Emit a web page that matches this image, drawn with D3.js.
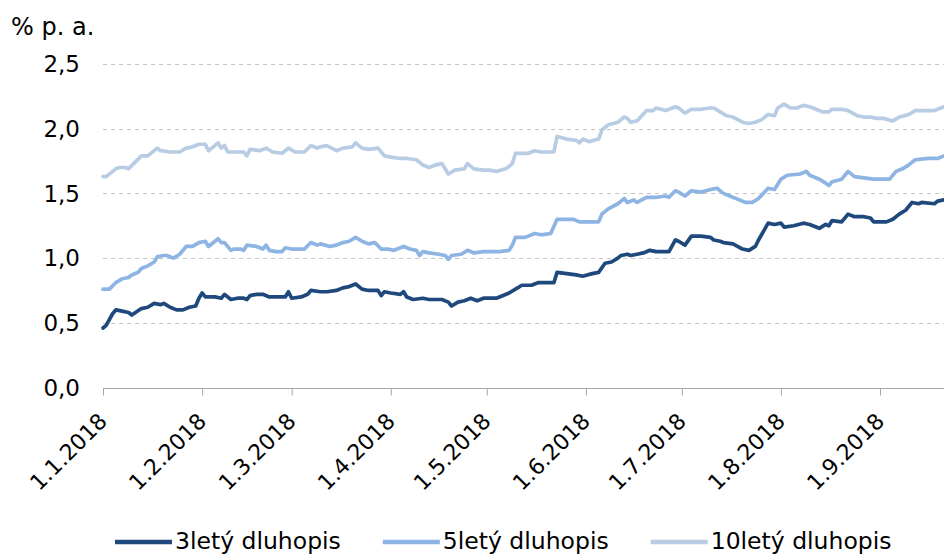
<!DOCTYPE html>
<html><head><meta charset="utf-8">
<script src="https://cdn.jsdelivr.net/npm/d3@7"></script>
<style>
body{margin:0;background:#fff}
svg{display:block;font-family:"DejaVu Sans",Verdana,sans-serif}
</style>
</head><body>
<svg id="chart" width="944" height="556"></svg>
<script>
// ---------- data ----------
const unitLabel = "% p. a.";
const yTickValues = [0, 0.5, 1.0, 1.5, 2.0, 2.5];
const xTickDates = ["2018-01-01","2018-02-01","2018-03-01","2018-04-01","2018-05-01","2018-06-01","2018-07-01","2018-08-01","2018-09-01"];
const xDomain = ["2018-01-01","2018-09-21"];
const seriesNames = ["3letý dluhopis","5letý dluhopis","10letý dluhopis"];

const dates3Y = ["2018-01-01","2018-01-02","2018-01-04","2018-01-05","2018-01-07","2018-01-09","2018-01-10","2018-01-13","2018-01-15","2018-01-17","2018-01-19","2018-01-20","2018-01-22","2018-01-24","2018-01-26","2018-01-28","2018-01-30","2018-01-31","2018-02-01","2018-02-02","2018-02-05","2018-02-07","2018-02-08","2018-02-10","2018-02-12","2018-02-14","2018-02-15","2018-02-16","2018-02-18","2018-02-20","2018-02-22","2018-02-24","2018-02-27","2018-02-28","2018-03-01","2018-03-04","2018-03-06","2018-03-07","2018-03-10","2018-03-12","2018-03-15","2018-03-17","2018-03-19","2018-03-21","2018-03-23","2018-03-25","2018-03-28","2018-03-29","2018-03-30","2018-04-01","2018-04-04","2018-04-05","2018-04-06","2018-04-08","2018-04-11","2018-04-13","2018-04-17","2018-04-19","2018-04-20","2018-04-22","2018-04-24","2018-04-26","2018-04-28","2018-04-30","2018-05-04","2018-05-05","2018-05-08","2018-05-10","2018-05-12","2018-05-15","2018-05-17","2018-05-19","2018-05-22","2018-05-23","2018-05-26","2018-05-29","2018-05-31","2018-06-03","2018-06-05","2018-06-07","2018-06-09","2018-06-11","2018-06-12","2018-06-14","2018-06-15","2018-06-17","2018-06-19","2018-06-21","2018-06-23","2018-06-27","2018-06-29","2018-06-30","2018-07-02","2018-07-04","2018-07-07","2018-07-10","2018-07-11","2018-07-13","2018-07-14","2018-07-17","2018-07-20","2018-07-22","2018-07-24","2018-07-25","2018-07-28","2018-07-30","2018-08-01","2018-08-02","2018-08-05","2018-08-08","2018-08-10","2018-08-13","2018-08-15","2018-08-16","2018-08-17","2018-08-20","2018-08-22","2018-08-24","2018-08-27","2018-08-29","2018-08-30","2018-09-03","2018-09-05","2018-09-07","2018-09-09","2018-09-11","2018-09-13","2018-09-14","2018-09-18","2018-09-19","2018-09-21"];
const values3Y = [0.46,0.48,0.57,0.60,0.59,0.58,0.56,0.61,0.62,0.65,0.64,0.65,0.62,0.60,0.60,0.62,0.63,0.69,0.73,0.70,0.70,0.69,0.72,0.68,0.69,0.69,0.68,0.71,0.72,0.72,0.70,0.70,0.70,0.74,0.69,0.70,0.72,0.75,0.74,0.74,0.75,0.77,0.78,0.80,0.76,0.75,0.75,0.71,0.74,0.73,0.72,0.74,0.70,0.68,0.69,0.68,0.68,0.66,0.63,0.66,0.67,0.69,0.67,0.69,0.69,0.70,0.73,0.76,0.79,0.79,0.81,0.81,0.81,0.89,0.88,0.87,0.86,0.88,0.89,0.96,0.97,1.00,1.02,1.03,1.02,1.03,1.04,1.06,1.05,1.05,1.14,1.13,1.10,1.17,1.17,1.16,1.14,1.13,1.12,1.11,1.07,1.06,1.09,1.14,1.27,1.26,1.27,1.24,1.25,1.27,1.26,1.23,1.26,1.25,1.29,1.28,1.34,1.32,1.32,1.31,1.28,1.28,1.30,1.34,1.37,1.43,1.42,1.43,1.42,1.44,1.45];

const dates5Y = ["2018-01-01","2018-01-03","2018-01-05","2018-01-07","2018-01-09","2018-01-10","2018-01-12","2018-01-13","2018-01-15","2018-01-17","2018-01-18","2018-01-20","2018-01-21","2018-01-23","2018-01-25","2018-01-27","2018-01-29","2018-01-31","2018-02-02","2018-02-03","2018-02-06","2018-02-07","2018-02-08","2018-02-10","2018-02-11","2018-02-13","2018-02-14","2018-02-15","2018-02-18","2018-02-20","2018-02-21","2018-02-22","2018-02-24","2018-02-26","2018-02-27","2018-03-01","2018-03-05","2018-03-07","2018-03-09","2018-03-10","2018-03-13","2018-03-15","2018-03-17","2018-03-19","2018-03-21","2018-03-23","2018-03-25","2018-03-27","2018-03-29","2018-03-31","2018-04-02","2018-04-05","2018-04-07","2018-04-09","2018-04-10","2018-04-11","2018-04-13","2018-04-16","2018-04-18","2018-04-19","2018-04-20","2018-04-23","2018-04-25","2018-04-27","2018-04-30","2018-05-03","2018-05-05","2018-05-08","2018-05-09","2018-05-10","2018-05-13","2018-05-16","2018-05-18","2018-05-21","2018-05-23","2018-05-28","2018-05-30","2018-06-01","2018-06-05","2018-06-06","2018-06-08","2018-06-11","2018-06-13","2018-06-14","2018-06-16","2018-06-17","2018-06-20","2018-06-23","2018-06-26","2018-06-27","2018-06-29","2018-06-30","2018-07-02","2018-07-04","2018-07-07","2018-07-10","2018-07-12","2018-07-14","2018-07-16","2018-07-19","2018-07-21","2018-07-23","2018-07-25","2018-07-28","2018-07-30","2018-08-01","2018-08-03","2018-08-07","2018-08-09","2018-08-10","2018-08-13","2018-08-15","2018-08-16","2018-08-17","2018-08-20","2018-08-22","2018-08-24","2018-08-27","2018-08-30","2018-09-02","2018-09-04","2018-09-06","2018-09-08","2018-09-10","2018-09-12","2018-09-16","2018-09-19","2018-09-21"];
const values5Y = [0.76,0.76,0.81,0.84,0.85,0.87,0.89,0.92,0.94,0.97,1.01,1.02,1.02,1.00,1.03,1.09,1.09,1.12,1.13,1.09,1.15,1.12,1.12,1.06,1.07,1.07,1.06,1.10,1.09,1.07,1.10,1.06,1.05,1.05,1.08,1.07,1.07,1.12,1.10,1.11,1.09,1.10,1.12,1.13,1.16,1.13,1.11,1.12,1.07,1.07,1.06,1.09,1.07,1.06,1.02,1.05,1.04,1.03,1.02,0.99,1.02,1.03,1.06,1.04,1.05,1.05,1.05,1.06,1.10,1.16,1.16,1.19,1.18,1.19,1.30,1.30,1.28,1.28,1.28,1.34,1.38,1.42,1.46,1.43,1.45,1.43,1.47,1.47,1.48,1.47,1.52,1.51,1.48,1.52,1.51,1.53,1.54,1.50,1.48,1.45,1.43,1.43,1.46,1.54,1.53,1.61,1.64,1.65,1.67,1.64,1.61,1.58,1.56,1.59,1.61,1.67,1.63,1.62,1.61,1.61,1.61,1.67,1.69,1.72,1.76,1.77,1.77,1.79];

const dates10Y = ["2018-01-01","2018-01-02","2018-01-05","2018-01-06","2018-01-08","2018-01-09","2018-01-11","2018-01-13","2018-01-15","2018-01-18","2018-01-19","2018-01-22","2018-01-25","2018-01-27","2018-01-29","2018-01-31","2018-02-02","2018-02-03","2018-02-06","2018-02-07","2018-02-08","2018-02-09","2018-02-14","2018-02-15","2018-02-16","2018-02-19","2018-02-21","2018-02-23","2018-02-26","2018-02-28","2018-03-02","2018-03-05","2018-03-07","2018-03-09","2018-03-10","2018-03-12","2018-03-15","2018-03-17","2018-03-20","2018-03-21","2018-03-23","2018-03-25","2018-03-28","2018-03-30","2018-04-01","2018-04-04","2018-04-06","2018-04-09","2018-04-11","2018-04-13","2018-04-15","2018-04-17","2018-04-18","2018-04-19","2018-04-21","2018-04-24","2018-04-25","2018-04-27","2018-04-30","2018-05-02","2018-05-04","2018-05-07","2018-05-09","2018-05-10","2018-05-14","2018-05-16","2018-05-18","2018-05-22","2018-05-23","2018-05-26","2018-05-29","2018-05-30","2018-05-31","2018-06-02","2018-06-05","2018-06-06","2018-06-08","2018-06-11","2018-06-13","2018-06-14","2018-06-15","2018-06-17","2018-06-20","2018-06-22","2018-06-23","2018-06-26","2018-06-29","2018-06-30","2018-07-02","2018-07-04","2018-07-07","2018-07-10","2018-07-11","2018-07-13","2018-07-15","2018-07-17","2018-07-20","2018-07-22","2018-07-24","2018-07-26","2018-07-28","2018-07-30","2018-07-31","2018-08-02","2018-08-04","2018-08-06","2018-08-08","2018-08-10","2018-08-12","2018-08-14","2018-08-16","2018-08-17","2018-08-20","2018-08-22","2018-08-25","2018-08-27","2018-08-29","2018-08-31","2018-09-02","2018-09-05","2018-09-07","2018-09-10","2018-09-12","2018-09-15","2018-09-18","2018-09-20","2018-09-21"];
const values10Y = [1.63,1.63,1.69,1.70,1.70,1.69,1.74,1.79,1.79,1.85,1.83,1.82,1.82,1.85,1.86,1.88,1.88,1.83,1.89,1.85,1.87,1.82,1.82,1.79,1.84,1.83,1.85,1.82,1.81,1.85,1.82,1.82,1.87,1.85,1.86,1.87,1.83,1.85,1.86,1.89,1.85,1.84,1.85,1.79,1.78,1.77,1.77,1.76,1.72,1.70,1.72,1.73,1.69,1.65,1.68,1.69,1.73,1.69,1.68,1.68,1.67,1.69,1.73,1.81,1.81,1.83,1.82,1.82,1.94,1.92,1.91,1.89,1.92,1.90,1.92,1.99,2.03,2.05,2.09,2.08,2.05,2.06,2.14,2.14,2.16,2.14,2.17,2.16,2.12,2.15,2.15,2.16,2.16,2.13,2.10,2.09,2.05,2.04,2.05,2.07,2.11,2.10,2.16,2.19,2.16,2.16,2.18,2.17,2.15,2.13,2.13,2.15,2.15,2.14,2.10,2.09,2.09,2.08,2.08,2.06,2.09,2.11,2.14,2.14,2.14,2.16,2.17];

// ---------- styles ----------
const colors = ["#1f497d", "#8db4e2", "#b8cce4"];
const W = 944, H = 556;
const plot = {left: 103, right: 944, top: 64, bottom: 387.5};

const parse = d3.timeParse("%Y-%m-%d");
const series = [
  {name: seriesNames[0], dates: dates3Y, values: values3Y, color: colors[0]},
  {name: seriesNames[1], dates: dates5Y, values: values5Y, color: colors[1]},
  {name: seriesNames[2], dates: dates10Y, values: values10Y, color: colors[2]}
].map(s => ({...s, points: s.dates.map((d, i) => ({date: parse(d), value: s.values[i]}))}));

const svg = d3.select("#chart");
const x = d3.scaleTime().domain(xDomain.map(parse)).range([plot.left, plot.right]);
const y = d3.scaleLinear().domain([0, 2.5]).range([plot.bottom, plot.top]);

// gridlines
svg.append("g").selectAll("line").data(yTickValues.filter(v => v > 0)).join("line")
  .attr("x1", plot.left).attr("x2", plot.right)
  .attr("y1", d => Math.round(y(d)) + 0.5).attr("y2", d => Math.round(y(d)) + 0.5)
  .attr("stroke", "#c4c4c4").attr("stroke-width", 1).attr("stroke-dasharray", "4,4");

// y labels
svg.append("g").selectAll("text").data(yTickValues).join("text")
  .attr("x", 80).attr("y", d => y(d)).attr("dy", "0.36em")
  .attr("text-anchor", "end").attr("font-size", 23).attr("fill", "#000")
  .text(d => d3.format(".1f")(d).replace(".", ","));

svg.append("text").attr("x", 11).attr("y", 35).attr("font-size", 24).attr("fill", "#000").text(unitLabel);

// x axis
const xAxis = d3.axisBottom(x)
  .tickValues(xTickDates.map(parse))
  .tickSize(7)
  .tickFormat(d3.timeFormat("%-d.%-m.%Y"));
const gx = svg.append("g").attr("transform", `translate(0,${Math.round(plot.bottom)+0.5})`).call(xAxis);
gx.select(".domain").attr("stroke", "#a6a6a6").attr("d", `M${plot.left},0H${plot.right}`);
gx.selectAll(".tick line").attr("stroke", "#a6a6a6");
gx.selectAll(".tick text")
  .attr("font-family", '"DejaVu Sans",Verdana,sans-serif')
  .attr("font-size", 22).attr("fill", "#000")
  .attr("text-anchor", "end")
  .attr("x", 0).attr("y", 0).attr("dy", 0)
  .attr("transform", "translate(5,34) rotate(-45)");

// lines
const line = d3.line().x(d => x(d.date)).y(d => y(d.value));
svg.append("defs").append("clipPath").attr("id", "clip").append("rect")
  .attr("x", plot.left - 2).attr("y", 0).attr("width", plot.right - plot.left + 2).attr("height", H);
svg.append("g").attr("clip-path", "url(#clip)").selectAll("path").data(series.slice().reverse()).join("path")
  .attr("d", d => line(d.points))
  .attr("fill", "none").attr("stroke", d => d.color)
  .attr("stroke-width", 3.7).attr("stroke-linejoin", "round").attr("stroke-linecap", "round");

// legend
const lg = svg.append("g");
let lx = 115;
series.forEach(s => {
  lg.append("line").attr("x1", lx).attr("x2", lx + 57).attr("y1", 542).attr("y2", 542)
    .attr("stroke", s.color).attr("stroke-width", 4.5);
  const t = lg.append("text").attr("x", lx + 60).attr("y", 549).attr("font-size", 23.5).attr("fill", "#000").text(s.name);
  lx += 60 + t.node().getComputedTextLength() + 42;
});
</script>
</body></html>
